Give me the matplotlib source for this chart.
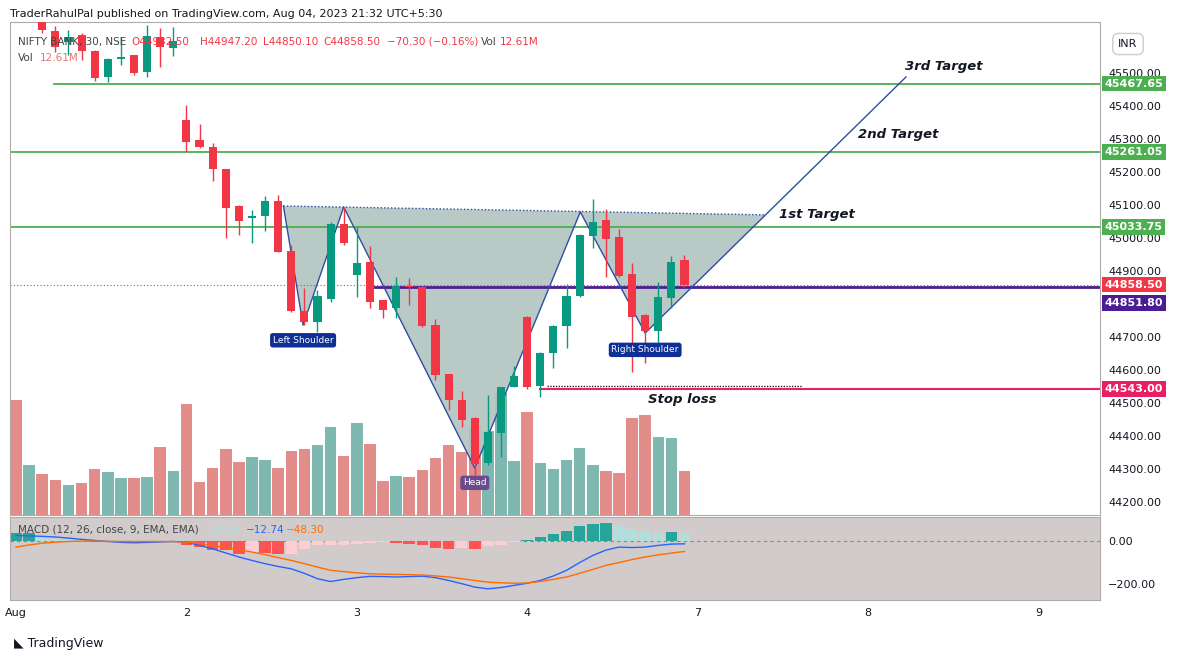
import matplotlib
matplotlib.use("Agg")
import matplotlib.pyplot as plt
from matplotlib.patches import Polygon
import numpy as np

W, H = 1182, 661

# --- data: NIFTY BANK 30m candles (Aug 1 - Aug 4) ---
opens = [45720, 45680, 45667, 45627, 45594, 45615, 45567, 45488, 45542, 45555,
         45503, 45609, 45576, 45358, 45297, 45276, 45209, 45097, 45061, 45067,
         45112, 44961, 44779, 44745, 44815, 45042, 44888, 44927, 44812, 44788,
         44855, 44852, 44736, 44588, 44509, 44455, 44318, 44409, 44548, 44761,
         44552, 44652, 44733, 44824, 45006, 45055, 45003, 44891, 44767, 44718,
         44818, 44932.5]
highs = [45730, 45710, 45676, 45642, 45630, 45621, 45570, 45545, 45609, 45555,
         45645, 45636, 45639, 45403, 45345, 45288, 45209, 45100, 45085, 45127,
         45130, 44979, 44848, 44842, 45048, 45094, 45033, 44976, 44812, 44882,
         44879, 44855, 44755, 44588, 44536, 44458, 44524, 44548, 44612, 44764,
         44655, 44736, 44861, 45012, 45118, 45088, 45027, 44924, 44770, 44867,
         44945, 44947.2]
lows = [45685, 45670, 45621, 45564, 45555, 45539, 45476, 45473, 45524, 45494,
        45488, 45518, 45552, 45261, 45273, 45173, 45000, 45009, 44985, 45021,
        44958, 44776, 44736, 44715, 44806, 44979, 44821, 44788, 44758, 44758,
        44797, 44730, 44570, 44479, 44427, 44282, 44312, 44336, 44548, 44542,
        44518, 44606, 44667, 44821, 44970, 44882, 44882, 44594, 44621, 44670,
        44788, 44850.1]
closes = [45690, 45700, 45630, 45579, 45609, 45567, 45485, 45542, 45548, 45500,
          45612, 45579, 45597, 45291, 45276, 45209, 45091, 45052, 45067, 45112,
          44958, 44779, 44745, 44824, 45042, 44985, 44924, 44806, 44782, 44855,
          44852, 44733, 44585, 44509, 44448, 44315, 44412, 44548, 44582, 44548,
          44652, 44733, 44824, 45009, 45048, 44997, 44885, 44761, 44718, 44821,
          44927, 44858.5]
volumes = [33.0, 14.3, 11.8, 10.0, 8.6, 9.2, 13.2, 12.3, 10.6, 10.6,
           10.9, 19.5, 12.6, 31.8, 9.5, 13.5, 18.9, 15.2, 16.6, 15.8,
           13.5, 18.3, 18.9, 20.1, 25.2, 16.9, 26.4, 20.3, 9.7, 11.2,
           10.9, 12.9, 16.3, 20.1, 18.1, 25.5, 24.1, 35.0, 15.5, 29.5,
           14.9, 13.2, 15.8, 19.2, 14.3, 12.6, 12.0, 27.8, 28.7, 22.4,
           22.1, 12.61]
macd_hist = [39, 39, 18, 8, 5, 3, -3, -5, -5, -3,
             -2, -1, 2, -17, -28, -40, -42, -59, -51, -54,
             -62, -62, -36, -20, -17, -17, -14, -8, -5, -8,
             -12, -20, -31, -36, -34, -36, -23, -17, -5, 6,
             19, 34, 46, 70, 81, 85, 76, 57, 45, 39,
             42, 35.56]
macd_line = [26, 24, 22, 19, 14, 8, 3, -2, -6, -8,
             -6, -4, -2, -5, -20, -36, -55, -74, -90, -105,
             -118, -129, -150, -175, -188, -178, -170, -164, -165, -167,
             -165, -163, -170, -183, -198, -214, -222, -216, -206, -196,
             -183, -162, -136, -100, -67, -42, -28, -30, -28, -20,
             -14, -12.74]
signal_line = [-28, -18, -10, -5, -2, 0, 0, -1, -2, -2,
               -2, -2, -2, -5, -12, -20, -30, -40, -51, -63,
               -77, -90, -105, -121, -136, -142, -148, -152, -154, -155,
               -156, -158, -162, -167, -175, -183, -191, -194, -196, -195,
               -188, -178, -167, -150, -132, -113, -100, -86, -74, -64,
               -56, -48.3]

day_ticks = [0, 13, 26, 39, 52, 65, 78]
day_labels = ["Aug", "2", "3", "4", "7", "8", "9"]
# 44800 is hidden behind the neckline label in the reference
price_ticks = [44200, 44300, 44400, 44500, 44600, 44700, 44900,
               45000, 45100, 45200, 45300, 45400, 45500]

target_levels = [45467.65, 45261.05, 45033.75]
stop_loss = 44543.00
neckline = 44851.80
last_close = 44858.50

# head & shoulders drawing (bar index, price)
pattern_x = [20.4, 21.9, 25.0, 35.0, 43.05, 48.0, 67.9]
pattern_y = [45097, 44736, 45094, 44303, 45079, 44712, 45488]
top_line_x = [20.4, 57.2]
top_line_y = [45097, 45070]

BG = "#d1cbcb"
GREEN, RED = "#089981", "#f23645"
VGREEN, VRED = "#7fb8b1", "#e28d8a"


def frac(x0, y0, x1, y1):
    return [x0 / W, 1 - y1 / H, (x1 - x0) / W, (y1 - y0) / H]


fig = plt.figure(figsize=(W / 100, H / 100), dpi=100)
fig.patch.set_facecolor("white")
ax = fig.add_axes(frac(10, 22, 1100, 515))
axm = fig.add_axes(frac(10, 517, 1100, 600), sharex=ax)
axv = ax.twinx()

idx = np.arange(len(opens))
xlim = (-0.46, 82.7)

for a in (ax, axm):
    a.set_facecolor(BG)
    for s in a.spines.values():
        s.set_color("#b0aaaa")
        s.set_linewidth(0.8)
    a.tick_params(length=0, labelsize=8, colors="#131722")

# volume on twin axis, behind candles
axv.set_zorder(0)
ax.set_zorder(1)
ax.patch.set_visible(False)
axv.set_facecolor(BG)
up = np.array(closes) >= np.array(opens)
axv.bar(idx, volumes, width=0.88, color=[VGREEN if u else VRED for u in up], zorder=1)
axv.set_ylim(0, 141.3)
axv.set_yticks([])
for s in axv.spines.values():
    s.set_visible(False)

# pattern fill + lines
poly = list(zip(pattern_x[:6], pattern_y[:6])) + [(57.2, 45070)]
ax.add_patch(Polygon(poly, closed=True, facecolor="#b2c3c0", edgecolor="none", alpha=0.9, zorder=1))
ax.plot(pattern_x, pattern_y, color="#2e4ea3", lw=1, zorder=3)
ax.plot(top_line_x, top_line_y, color="#2e4ea3", lw=1, ls=(0, (1, 1.5)), zorder=3)

# horizontal levels
ax.plot([2.9, xlim[1]], [target_levels[0]] * 2, color="#4caf50", lw=1.3, zorder=2)
ax.axhline(target_levels[1], color="#4caf50", lw=1.3, zorder=2)
ax.axhline(target_levels[2], color="#4caf50", lw=1.3, zorder=2)
ax.plot([27.4, xlim[1]], [neckline] * 2, color="#4a1d96", lw=2, zorder=2)
ax.axhline(last_close, color=RED, lw=0.8, ls=(0, (1, 2)), zorder=2)
ax.plot([40, xlim[1]], [stop_loss] * 2, color="#e91e63", lw=1.5, zorder=2)
ax.plot([40.5, 60], [stop_loss + 10] * 2, color="#222222", lw=1, ls=(0, (1, 1)), zorder=2)

# candles
for i in idx:
    c = GREEN if up[i] else RED
    ax.vlines(i, lows[i], highs[i], color=c, lw=1, zorder=4)
    body = max(abs(closes[i] - opens[i]), 3)
    ax.bar(i, body, bottom=min(opens[i], closes[i]), width=0.62, color=c, zorder=5)

ax.set_xlim(*xlim)
ax.set_ylim(44160.6, 45654.5)
ax.yaxis.tick_right()
ax.set_yticks(price_ticks)
ax.set_yticklabels([f"{p:.2f}" for p in price_ticks])
ax.tick_params(axis="y", pad=6)
plt.setp(ax.get_xticklabels(), visible=False)

# text annotations
tstyle = dict(fontsize=9.5, fontweight="bold", fontstyle="italic", color="#131722", zorder=6)
ax.text(67.8, 45500, "3rd Target", ha="left", va="bottom", **tstyle)
ax.text(64.2, 45295, "2nd Target", ha="left", va="bottom", **tstyle)
ax.text(58.2, 45050, "1st Target", ha="left", va="bottom", **tstyle)
ax.text(48.2, 44490, "Stop loss", ha="left", va="bottom", **tstyle)

lab = dict(fontsize=6.5, color="white", ha="center", va="center", zorder=7)
ax.text(21.9, 44690, "Left Shoulder", bbox=dict(boxstyle="round,pad=0.3", fc="#0d2f96", ec="none"), **lab)
ax.text(35.0, 44258, "Head", bbox=dict(boxstyle="round,pad=0.3", fc="#6a4a8c", ec="none"), **lab)
ax.text(48.0, 44661, "Right Shoulder", bbox=dict(boxstyle="round,pad=0.3", fc="#0d2f96", ec="none"), **lab)

# price labels on axis (neckline label pushed down like the reference)
for p, shown, col in [(target_levels[0], target_levels[0], "#4caf50"),
                      (target_levels[1], target_levels[1], "#4caf50"),
                      (target_levels[2], target_levels[2], "#4caf50"),
                      (last_close, last_close, RED),
                      (neckline, neckline - 48, "#4a1d96"),
                      (stop_loss, stop_loss, "#e91e63")]:
    ax.annotate(f"{p:.2f}", xy=(1.004, shown), xycoords=("axes fraction", "data"),
                fontsize=8, fontweight="bold", color="white", va="center", ha="left",
                bbox=dict(boxstyle="square,pad=0.25", fc=col, ec="none"),
                annotation_clip=False, zorder=8)

# legend text
fs = 7.5
yl = 1 - 42 / H
fig.text(18 / W, yl, "NIFTY BANK, 30, NSE", fontsize=fs, color="#444", va="center")
fig.text(131 / W, yl, "O44932.50", fontsize=fs, color=RED, va="center")
fig.text(200 / W, yl, "H44947.20", fontsize=fs, color=RED, va="center")
fig.text(263 / W, yl, "L44850.10", fontsize=fs, color=RED, va="center")
fig.text(323 / W, yl, "C44858.50", fontsize=fs, color=RED, va="center")
fig.text(387 / W, yl, "\u221270.30 (\u22120.16%)", fontsize=fs, color=RED, va="center")
fig.text(481 / W, yl, "Vol", fontsize=fs, color="#444", va="center")
fig.text(500 / W, yl, "12.61M", fontsize=fs, color=RED, va="center")
fig.text(18 / W, 1 - 58 / H, "Vol", fontsize=fs, color="#444", va="center")
fig.text(40 / W, 1 - 58 / H, "12.61M", fontsize=fs, color="#e57373", va="center")
fig.text(1128 / W, 1 - 44 / H, "INR", fontsize=8, color="#131722", va="center", ha="center",
         bbox=dict(boxstyle="round,pad=0.5", fc="white", ec="#cccccc"))

# MACD pane
h = np.array(macd_hist)
dh = np.diff(h, prepend=h[0])
hcol = []
for v, d in zip(h, dh):
    if v >= 0:
        hcol.append("#26a69a" if d >= 0 else "#b2dfdb")
    else:
        hcol.append("#ffcdd2" if d >= 0 else "#ff5252")
axm.bar(idx, h, width=0.88, color=hcol, zorder=2)
axm.plot(idx, macd_line, color="#2962ff", lw=1, zorder=3)
axm.plot(idx, signal_line, color="#ff6d00", lw=1, zorder=3)
axm.axhline(0, color="#888888", lw=0.8, ls=(0, (3, 3)), zorder=1)
axm.set_ylim(-274, 112)
axm.yaxis.tick_right()
axm.set_yticks([0, -200])
axm.set_yticklabels(["0.00", "\u2212200.00"])
axm.tick_params(axis="y", pad=6)
axm.set_xticks(day_ticks)
axm.set_xticklabels(day_labels)
axm.tick_params(axis="x", pad=6)
ym = 1 - 530 / H
fig.text(18 / W, ym, "MACD (12, 26, close, 9, EMA, EMA)", fontsize=fs, color="#444", va="center")
fig.text(210 / W, ym, "35.56", fontsize=fs, color="#b2dfdb", va="center")
fig.text(246 / W, ym, "\u221212.74", fontsize=fs, color="#2962ff", va="center")
fig.text(286 / W, ym, "\u221248.30", fontsize=fs, color="#ff6d00", va="center")

fig.text(10 / W, 1 - 14 / H, "TraderRahulPal published on TradingView.com, Aug 04, 2023 21:32 UTC+5:30",
         fontsize=8, color="#131722", va="center")
fig.text(14 / W, 1 - 643 / H, "\u25E3 TradingView", fontsize=9, color="#131722", va="center")

fig.savefig("out.png", dpi=100, facecolor=fig.get_facecolor())
